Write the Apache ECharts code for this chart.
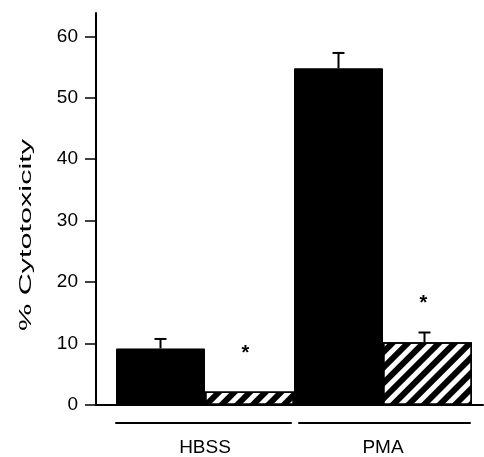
<!DOCTYPE html>
<html>
<head>
<meta charset="utf-8">
<script src="https://cdn.jsdelivr.net/npm/echarts@6/dist/echarts.min.js"></script>
<style>html,body{margin:0;padding:0;background:#fff;}#c{width:484px;height:457px;}</style>
</head>
<body>
<div id="c"></div>
<script>
const categories = ['HBSS', 'PMA'];
const controlValues = [9.2, 54.8];
const treatedValues = [2.2, 10.2];
const controlErrTop = [10.75, 57.3];
const treatedErrTop = [null, 11.8];
const asteriskValues = [9.1, 17.1];
const yTicks = [0, 10, 20, 30, 40, 50, 60];
const yAxisTitle = '% Cytotoxicity';

const FONT = 'Liberation Sans, Arial, Helvetica, sans-serif';
const TOP = 13, BOTTOM = 52;

function errRender(offsetSign, shift) {
  return function (params, api) {
    const cat = api.value(0);
    const top = api.value(1);
    const base = api.value(2);
    if (top == null || isNaN(top)) return null;
    const bw = api.size([1, 0])[0];
    const pTop = api.coord([cat, top]);
    const pBase = api.coord([cat, base]);
    const x = pTop[0] + offsetSign * bw / 4 + shift;
    const half = 6;
    return {
      type: 'group',
      children: [
        { type: 'line', shape: { x1: x, y1: pTop[1], x2: x, y2: pBase[1] }, style: { stroke: '#000', lineWidth: 2 } },
        { type: 'line', shape: { x1: x - half, y1: pTop[1], x2: x + half, y2: pTop[1] }, style: { stroke: '#000', lineWidth: 2 } }
      ]
    };
  };
}

function starRender(params, api) {
  const cat = api.value(0);
  const v = api.value(1);
  const bw = api.size([1, 0])[0];
  const p = api.coord([cat, v]);
  return {
    type: 'text',
    x: p[0] + bw / 4 - 4,
    y: p[1] + 4,
    style: { text: '*', font: 'bold 20px ' + FONT, fill: '#000', align: 'center', verticalAlign: 'middle' }
  };
}

function bracketAxis(gridIndex, label) {
  return { gridIndex: gridIndex, type: 'category', data: [label], offset: 18,
    axisLine: { show: true, onZero: false, lineStyle: { color: '#000', width: 2 } },
    axisTick: { show: false }, axisLabel: { show: false } };
}

const chart = echarts.init(document.getElementById('c'), null, { renderer: 'canvas' });
chart.setOption({
  animation: false,
  backgroundColor: '#fff',
  grid: [
    { left: 96, right: 1, top: TOP, bottom: BOTTOM },
    { left: 116, right: 12, top: TOP, bottom: BOTTOM },
    { left: 116, right: 193, top: TOP, bottom: BOTTOM },
    { left: 299, right: 14, top: TOP, bottom: BOTTOM }
  ],
  xAxis: [
    { gridIndex: 0, type: 'value', min: 0, max: 1, axisLine: { show: true, onZero: false, lineStyle: { color: '#000', width: 2 } },
      axisTick: { show: false }, axisLabel: { show: false }, splitLine: { show: false } },
    { gridIndex: 1, type: 'category', data: categories, axisLine: { show: false }, axisTick: { show: false },
      axisLabel: { show: true, color: '#000', fontSize: 19, fontFamily: FONT, margin: 33 } },
    bracketAxis(2, categories[0]),
    bracketAxis(3, categories[1])
  ],
  yAxis: [
    { gridIndex: 0, type: 'value', min: 0, max: 63.8,
      axisLine: { show: true, onZero: false, lineStyle: { color: '#000', width: 2 } },
      axisTick: { show: true, length: 11, customValues: yTicks, lineStyle: { color: '#000', width: 1.5 } },
      axisLabel: { show: true, customValues: yTicks, color: '#000', fontSize: 19, fontFamily: FONT, margin: 18 },
      splitLine: { show: false } },
    { gridIndex: 1, type: 'value', min: 0, max: 63.8, show: false },
    { gridIndex: 2, type: 'value', min: 0, max: 1, show: false },
    { gridIndex: 3, type: 'value', min: 0, max: 1, show: false }
  ],
  graphic: [
    { type: 'text', x: 26, y: 235, rotation: Math.PI / 2, scaleX: 1.8, scaleY: 1,
      style: { text: yAxisTitle, font: '17px ' + FONT, fill: '#000', align: 'center', verticalAlign: 'middle' } }
  ],
  series: [
    { type: 'bar', xAxisIndex: 1, yAxisIndex: 1, data: controlValues, barGap: '0%', barCategoryGap: '0%',
      itemStyle: { color: '#000', borderColor: '#000', borderWidth: 1 } },
    { type: 'bar', xAxisIndex: 1, yAxisIndex: 1, data: treatedValues, barGap: '0%', barCategoryGap: '0%',
      itemStyle: { color: '#fff', borderColor: '#000', borderWidth: 1.5,
        decal: { symbol: 'rect', symbolSize: 1, dashArrayX: [1, 0], dashArrayY: [6, 4.5], rotation: -Math.PI / 4, color: '#000' } } },
    { type: 'custom', xAxisIndex: 1, yAxisIndex: 1, renderItem: errRender(-1, 0), z: 5,
      data: categories.map((c, i) => [i, controlErrTop[i], controlValues[i]]) },
    { type: 'custom', xAxisIndex: 1, yAxisIndex: 1, renderItem: errRender(1, -3), z: 5,
      data: categories.map((c, i) => [i, treatedErrTop[i], treatedValues[i]]) },
    { type: 'custom', xAxisIndex: 1, yAxisIndex: 1, renderItem: starRender, z: 5,
      data: categories.map((c, i) => [i, asteriskValues[i]]) }
  ]
});
</script>
</body>
</html>
